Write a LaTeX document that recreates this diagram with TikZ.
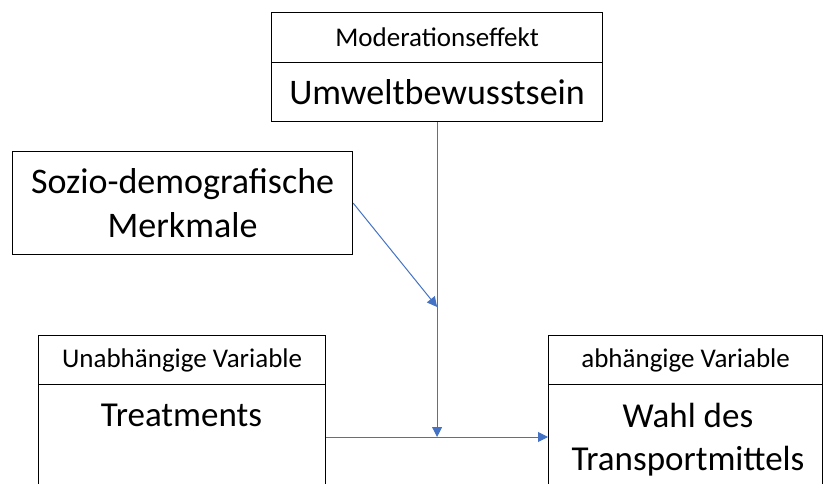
\documentclass[tikz,border=0pt]{standalone}
\usepackage{fontspec}
\setmainfont{Carlito}
\usetikzlibrary{arrows.meta}
\definecolor{conncol}{HTML}{4472C4}
\begin{document}
\begin{tikzpicture}[x=1pt,y=-1pt,
  box/.style={draw=black,line width=1.2pt,inner sep=0pt,anchor=north west,align=center},
  txt/.style={inner sep=0pt,align=center},
  conn/.style={draw=conncol,line width=1pt,-{Triangle[length=10pt,width=10pt]}},
  fsmall/.style={font=\fontsize{27}{32}\selectfont},
  fbig/.style={font=\fontsize{36}{44}\selectfont},
  fmid/.style={font=\fontsize{35}{43.5}\selectfont}]
\useasboundingbox (0,0) rectangle (823,484);
\clip (0,0) rectangle (823,484);
% top box
\node[box,fsmall,minimum width=331pt,minimum height=50pt] (modh) at (271,12) {Moderationseffekt};
\node[box,fbig,minimum width=331pt,minimum height=59pt] (modb) at (271,62) {Umweltbewusstsein};
% sozio box
\node[box,fbig,minimum width=340pt,minimum height=103pt] (sozio) at (12,151) {Sozio-demografische\\Merkmale};
% independent variable
\node[box,fsmall,minimum width=287pt,minimum height=49pt] (ivh) at (38,335) {Unabhängige Variable};
\node[box,minimum width=287pt,minimum height=140pt] (ivb) at (38,384) {};
\node[txt,fmid,anchor=base] (ivt) at (181.5,426) {Treatments};
% dependent variable
\node[box,fsmall,minimum width=274pt,minimum height=49pt] (dvh) at (548,335) {abhängige Variable};
\node[box,minimum width=274pt,minimum height=140pt] (dvb) at (548,384) {};
\node[txt,fmid,anchor=base] (dvt1) at (688,427) {Wahl des};
\node[txt,fmid,anchor=base] (dvt2) at (688,470) {Transportmittels};
% connectors
\coordinate (m) at (modb.south |- 0,437);
\coordinate (s) at (modb.south |- 0,307);
\draw[conn] (ivb.east |- m) -- (dvb.west |- m);
\draw[conn] (modb.south) -- (m);
\draw[conn] (sozio.east) -- (s);
\end{tikzpicture}
\end{document}
